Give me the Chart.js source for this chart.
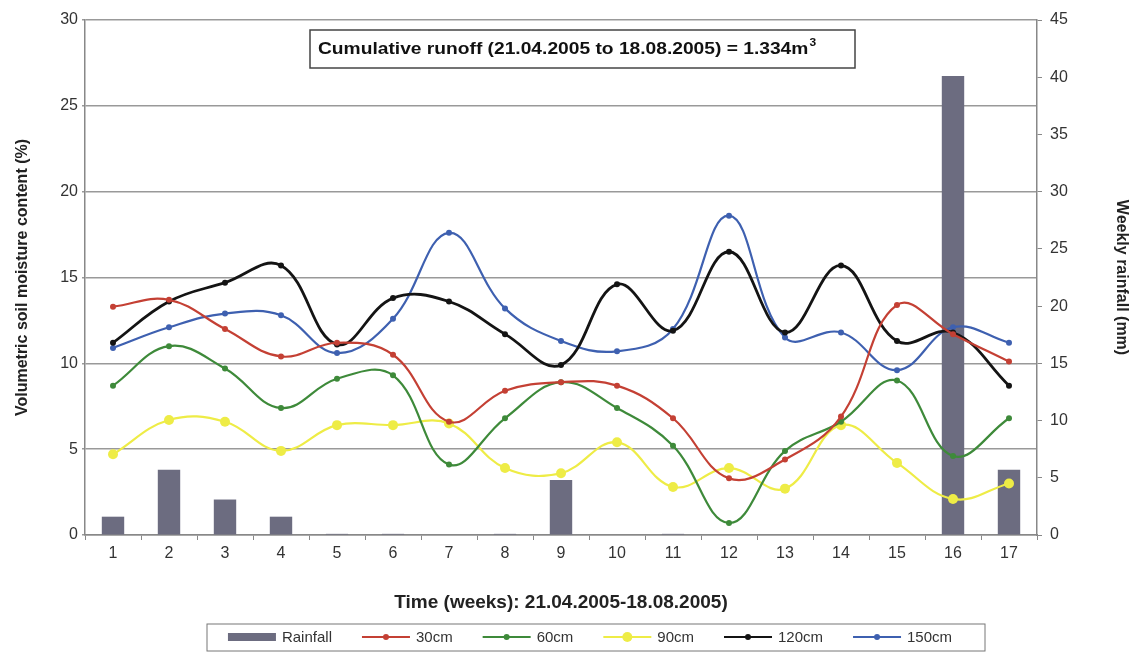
<!DOCTYPE html>
<html>
<head>
<meta charset="utf-8">
<script src="https://cdn.jsdelivr.net/npm/chart.js@4"></script>
<style>
  body { margin: 0; background: #fff; }
  #wrap { width: 1136px; height: 656px; }
</style>
</head>
<body>
<div id="wrap"><canvas id="myChart" width="1136" height="656"></canvas></div>
<script>
// weekly values
const weeks = ['1', '2', '3', '4', '5', '6', '7', '8', '9', '10', '11', '12', '13', '14', '15', '16', '17'];
const rainfall = [1.6, 5.7, 3.1, 1.6, 0.1, 0.1, 0, 0.1, 4.8, 0, 0.1, 0, 0, 0, 0, 40.1, 5.7];
const m30 = [13.3, 13.7, 12.0, 10.4, 11.2, 10.5, 6.6, 8.4, 8.9, 8.7, 6.8, 3.3, 4.4, 6.9, 13.4, 11.7, 10.1];
const m60 = [8.7, 11.0, 9.7, 7.4, 9.1, 9.3, 4.1, 6.8, 8.9, 7.4, 5.2, 0.7, 4.9, 6.6, 9.0, 4.6, 6.8];
const m90 = [4.7, 6.7, 6.6, 4.9, 6.4, 6.4, 6.5, 3.9, 3.6, 5.4, 2.8, 3.9, 2.7, 6.4, 4.2, 2.1, 3.0];
const m120 = [11.2, 13.6, 14.7, 15.7, 11.1, 13.8, 13.6, 11.7, 9.9, 14.6, 11.9, 16.5, 11.8, 15.7, 11.3, 11.8, 8.7];
const m150 = [10.9, 12.1, 12.9, 12.8, 10.6, 12.6, 17.6, 13.2, 11.3, 10.7, 12.0, 18.6, 11.5, 11.8, 9.6, 12.1, 11.2];

const FONT = "'Liberation Sans', Arial, sans-serif";
const barColor = 'rgb(108, 108, 128)';

function lineSet(label, data, color, radius, width) {
  return {
    type: 'line',
    label: label,
    data: data,
    yAxisID: 'y',
    borderColor: color,
    backgroundColor: color,
    borderWidth: width || 2.2,
    pointRadius: radius || 3,
    pointBorderWidth: 0,
    tension: 0.4,
    order: 1
  };
}

const series = [
  lineSet('30cm', m30, 'rgb(196, 64, 52)'),
  lineSet('60cm', m60, 'rgb(62, 138, 58)'),
  lineSet('90cm', m90, 'rgb(238, 236, 70)', 5),
  lineSet('120cm', m120, 'rgb(20, 20, 20)', 3, 2.8),
  lineSet('150cm', m150, 'rgb(62, 96, 176)')
];

// text box with the cumulative runoff note (text stretched like the scan)
const runoffBox = {
  id: 'runoffBox',
  afterDraw(chart) {
    const ctx = chart.ctx;
    ctx.save();
    ctx.fillStyle = '#fff';
    ctx.fillRect(310, 30, 545, 38);
    ctx.strokeStyle = '#444';
    ctx.lineWidth = 1.5;
    ctx.strokeRect(310, 30, 545, 38);
    ctx.translate(318, 0);
    ctx.scale(1.2, 1);
    ctx.fillStyle = '#111';
    ctx.font = 'bold 16px ' + FONT;
    ctx.textBaseline = 'alphabetic';
    const txt = 'Cumulative runoff (21.04.2005 to 18.08.2005) = 1.334m';
    ctx.fillText(txt, 0, 54);
    const w = ctx.measureText(txt).width;
    ctx.font = 'bold 10px ' + FONT;
    ctx.fillText('3', w + 1, 46);
    ctx.restore();
  }
};

// boxed legend under the axis title, line + marker swatches
const boxLegend = {
  id: 'boxLegend',
  afterDraw(chart) {
    const ctx = chart.ctx;
    const items = [{ label: 'Rainfall', bar: true }].concat(series.map(s => ({
      label: s.label, color: s.borderColor, r: s.pointRadius
    })));
    ctx.save();
    ctx.font = '15px ' + FONT;
    const sw = 48, gap = 6, sep = 30;
    let total = 0;
    items.forEach(it => { total += sw + gap + ctx.measureText(it.label).width + sep; });
    total -= sep;
    const cx = 590, y = 637;
    let x = cx - total / 2;
    ctx.strokeStyle = '#777';
    ctx.lineWidth = 1;
    ctx.strokeRect(207, 624, 778, 27);
    ctx.textBaseline = 'middle';
    items.forEach(it => {
      if (it.bar) {
        ctx.fillStyle = barColor;
        ctx.fillRect(x, y - 4, sw, 8);
      } else {
        ctx.strokeStyle = it.color;
        ctx.lineWidth = 2;
        ctx.beginPath();
        ctx.moveTo(x, y);
        ctx.lineTo(x + sw, y);
        ctx.stroke();
        ctx.fillStyle = it.color;
        ctx.beginPath();
        ctx.arc(x + sw / 2, y, it.r, 0, Math.PI * 2);
        ctx.fill();
      }
      ctx.fillStyle = '#333';
      ctx.fillText(it.label, x + sw + gap, y + 1);
      x += sw + gap + ctx.measureText(it.label).width + sep;
    });
    ctx.restore();
  }
};

const ctx = document.getElementById('myChart').getContext('2d');
const chart = new Chart(ctx, {
  data: {
    labels: weeks,
    datasets: [{
      type: 'bar',
      label: 'Rainfall',
      data: rainfall,
      yAxisID: 'y2',
      backgroundColor: barColor,
      barPercentage: 0.8,
      categoryPercentage: 0.5,
      order: 10
    }].concat(series)
  },
  options: {
    responsive: false,
    animation: false,
    layout: { padding: { top: 20, bottom: 36, left: 0, right: 0 } },
    plugins: {
      legend: { display: false },
      tooltip: { enabled: false }
    },
    scales: {
      x: {
        offset: true,
        grid: { offset: true, drawOnChartArea: false, tickLength: 5, color: '#888' },
        border: { color: '#888', width: 1.5 },
        ticks: { color: '#333', font: { family: FONT, size: 16 }, padding: 4 },
        title: {
          display: true,
          text: 'Time (weeks): 21.04.2005-18.08.2005)',
          color: '#222',
          font: { family: FONT, size: 19, weight: 'bold' },
          padding: { top: 0, bottom: 6 }
        },
        afterFit(scale) { scale.height = 85; }
      },
      y: {
        position: 'left',
        min: 0,
        max: 30,
        ticks: { stepSize: 5, color: '#333', font: { family: FONT, size: 16 }, padding: 4 },
        grid: { color: '#999', lineWidth: 1.6, tickLength: 3 },
        border: { color: '#888', width: 1.5 },
        title: {
          display: true,
          text: 'Volumetric soil moisture content (%)',
          color: '#222',
          font: { family: FONT, size: 16, weight: 'bold' },
          padding: { top: 13, bottom: 0 }
        },
        afterFit(scale) { scale.width = 85; }
      },
      y2: {
        position: 'right',
        min: 0,
        max: 45,
        ticks: { stepSize: 5, color: '#333', font: { family: FONT, size: 16 }, padding: 8 },
        grid: { drawOnChartArea: false, tickLength: 5, color: '#888' },
        border: { color: '#888', width: 1.5 },
        title: {
          display: true,
          text: 'Weekly rainfall (mm)',
          color: '#222',
          font: { family: FONT, size: 16, weight: 'bold' },
          padding: { top: 5, bottom: 0 }
        },
        afterFit(scale) { scale.width = 99; }
      }
    }
  },
  plugins: [runoffBox, boxLegend]
});
</script>
</body>
</html>
